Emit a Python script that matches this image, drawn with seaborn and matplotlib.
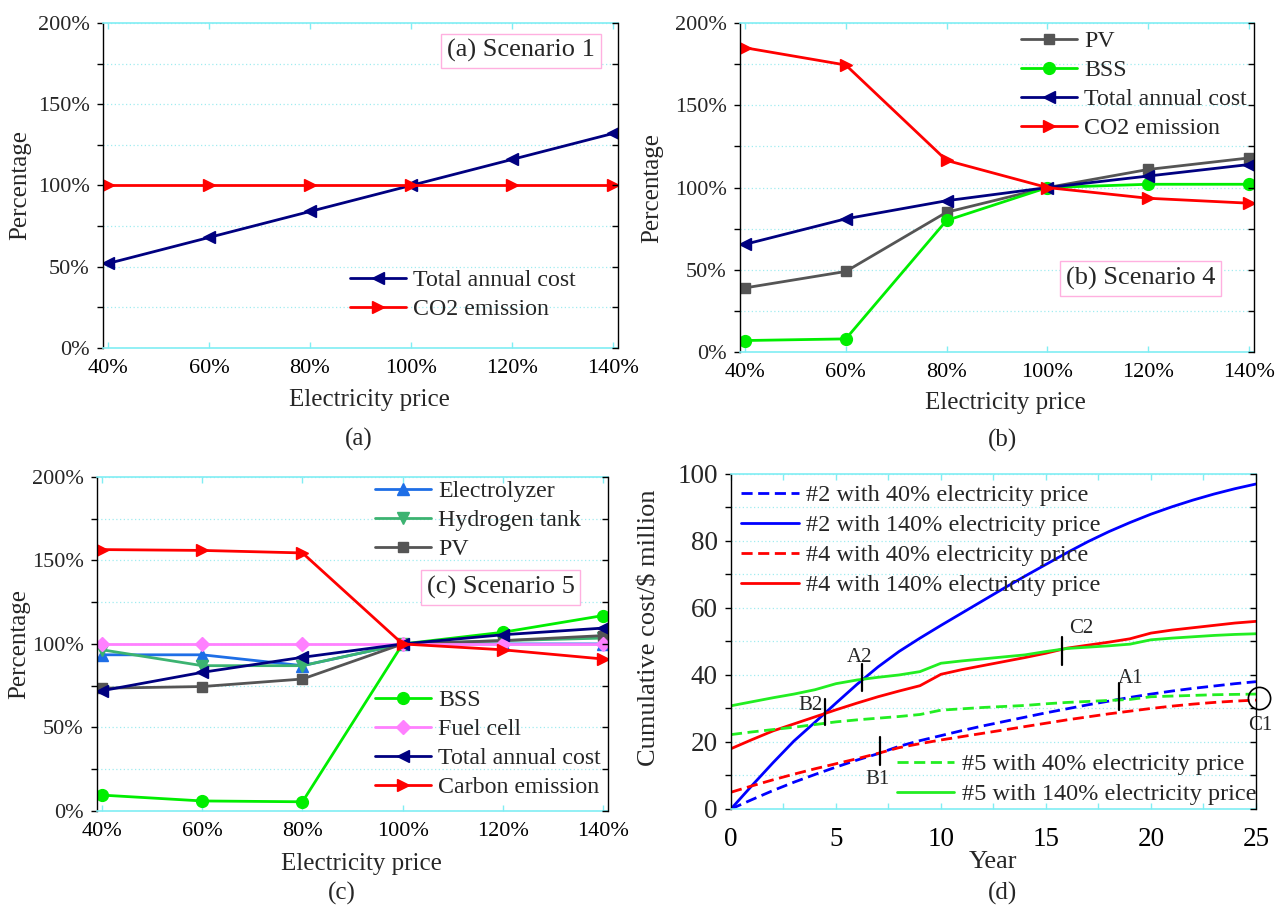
import matplotlib
matplotlib.use("Agg")
import matplotlib.pyplot as plt
import seaborn as sns
from matplotlib.ticker import FixedLocator, MultipleLocator

sns.set_style("white")
plt.rcParams["font.family"] = ["Liberation Serif", "DejaVu Serif"]
plt.rcParams["mathtext.fontset"] = "stix"

# ---------------- data ----------------
price = [40, 60, 80, 100, 120, 140]
price_labels = ["40%", "60%", "80%", "100%", "120%", "140%"]
pct_ticks = [0, 50, 100, 150, 200]
pct_labels = ["0%", "50%", "100%", "150%", "200%"]

# (a) Scenario 1
a_total_cost = [52, 68, 84, 100, 116, 132]
a_co2 = [100, 100, 100, 100, 100, 100]

# (b) Scenario 4
b_pv = [39, 49, 85, 100, 111, 118]
b_bss = [7, 8, 80, 100, 102, 102]
b_total_cost = [65.5, 81, 92, 100, 107, 114]
b_co2 = [185, 174.5, 116.5, 100, 93.5, 90.5]

# (c) Scenario 5
c_electrolyzer = [93.5, 93.5, 87, 100, 100, 100]
c_h2_tank = [96.5, 87, 87, 100, 102, 103.5]
c_pv = [73.5, 74.5, 79, 100, 102, 105]
c_bss = [9.5, 6, 5.5, 100, 107, 117]
c_fuel_cell = [100, 100, 100, 100, 100, 100]
c_total_cost = [72, 83, 92, 100, 105.5, 109.5]
c_carbon = [156.5, 156, 154.5, 100, 96.5, 91]

# (d) cumulative cost over the project life ($ million)
years = list(range(26))
d2_40 = [0, 2.8, 5.5, 8.0, 10.3, 12.5, 14.6, 16.5, 18.7, 20.4, 21.9, 23.4, 24.8,
         26.1, 27.4, 28.7, 29.9, 31.1, 32.2, 33.3, 34.3, 35.2, 36.0, 36.7, 37.4, 38.0]
d2_140 = [0, 7.0, 13.8, 20.3, 25.9, 31.6, 37.2, 42.4, 47.0, 51.0, 54.8, 58.5, 62.2,
          65.9, 69.5, 73.0, 76.5, 79.8, 82.8, 85.5, 88.0, 90.2, 92.2, 94.0, 95.6, 97.0]
d4_40 = [5.0, 6.9, 8.7, 10.4, 12.0, 13.5, 15.0, 16.6, 18.3, 19.5, 20.6, 21.6, 22.6,
         23.6, 24.6, 25.6, 26.6, 27.5, 28.4, 29.2, 30.0, 30.7, 31.3, 31.8, 32.2, 32.5]
d4_140 = [18.0, 20.7, 23.3, 25.4, 27.5, 29.6, 31.6, 33.5, 35.2, 36.8, 40.2, 41.6, 42.8,
          44.0, 45.2, 46.5, 48.0, 48.9, 49.8, 50.8, 52.5, 53.4, 54.1, 54.8, 55.5, 56.0]
d5_40 = [22.2, 23.0, 23.7, 24.4, 25.2, 26.0, 26.6, 27.1, 27.6, 28.2, 29.5, 29.9, 30.3,
         30.6, 30.9, 31.4, 31.8, 32.1, 32.4, 32.7, 33.5, 33.7, 33.9, 34.1, 34.2, 34.3]
d5_140 = [30.8, 32.0, 33.2, 34.3, 35.6, 37.4, 38.5, 39.3, 40.0, 41.0, 43.5, 44.2, 44.8,
          45.4, 46.0, 47.0, 47.9, 48.3, 48.7, 49.2, 50.5, 51.0, 51.4, 51.8, 52.1, 52.3]

# crossing-point markers in (d): name, year, lower / upper end of the bar
mark_names = ["A2", "B2", "B1", "C2", "A1"]
mark_years = [6.26, 4.5, 7.1, 15.78, 18.5]
mark_low = [35.1, 25.0, 13.2, 43.0, 29.5]
mark_high = [43.3, 32.8, 21.5, 51.3, 37.6]
mark_text_xy = [(6.1, 45.3), (3.8, 30.8), (6.98, 8.8), (16.7, 53.8), (19.05, 38.8)]

# ---------------- style ----------------
NAVY = "#000080"
RED = "#ff0000"
GRAY = "#555555"
LIME = "#00ee00"
EL_BLUE = "#1e6ee6"
SEA = "#3cb371"
PINK = "#ff80ff"
CYAN = "#80eef4"
GRID = "#a0ecf0"
BOX_EDGE = "#ffb0e0"

fig = plt.figure(figsize=(12.82, 9.05), dpi=100)
ax_a = fig.add_axes([0.0803, 0.6155, 0.4017, 0.3591])
ax_b = fig.add_axes([0.5772, 0.6110, 0.4009, 0.3635])
ax_c = fig.add_axes([0.0757, 0.1039, 0.3986, 0.3691])
ax_d = fig.add_axes([0.5702, 0.1061, 0.4095, 0.3702])


def draw_series(ax, x, y, name, color, marker=None, ms=9, ls="-"):
    kw = dict(x=x, y=y, ax=ax, color=color, linewidth=2.0, label=name,
              errorbar=None, linestyle=ls)
    if marker is not None:
        kw.update(marker=marker, markersize=ms, markeredgecolor=color,
                  markerfacecolor=color, markeredgewidth=1.0)
    sns.lineplot(**kw)


def style_axes(ax, ylim, yticks, ylabels, yminor, xlim, xticks, xlabels, xminor,
               tick_fs, label_fs, xlabel, ylabel, xlab_xy, ylab_xy, xpad):
    ax.set_xlim(*xlim)
    ax.set_ylim(*ylim)
    ax.xaxis.set_major_locator(FixedLocator(xticks))
    ax.set_xticklabels(xlabels, fontsize=tick_fs)
    if xminor:
        ax.xaxis.set_minor_locator(MultipleLocator(xminor))
    ax.yaxis.set_major_locator(FixedLocator(yticks))
    ax.set_yticklabels(ylabels, fontsize=tick_fs)
    ax.yaxis.set_minor_locator(MultipleLocator(yminor))
    ax.grid(False)
    ax.grid(axis="y", which="both", linestyle=(0, (1, 2)), color=GRID, linewidth=0.9)
    ax.set_axisbelow(True)
    ax.tick_params(axis="x", which="both", direction="in", bottom=True, top=True,
                   color=CYAN, labelcolor="black", length=4.5, width=1.0, pad=xpad)
    ax.tick_params(axis="y", which="both", direction="out", left=True, right=False,
                   color="black", length=4.5, width=1.0, pad=5)
    for side in ("top", "bottom"):
        ax.spines[side].set_color(CYAN)
        ax.spines[side].set_linewidth(1.2)
    ax.spines["left"].set_color("black")
    ax.spines["left"].set_linewidth(1.0)
    ax.spines["right"].set_visible(False)
    ax.set_xlabel(xlabel, fontsize=label_fs)
    ax.set_ylabel(ylabel, fontsize=label_fs)
    ax.xaxis.set_label_coords(*xlab_xy)
    ax.yaxis.set_label_coords(*ylab_xy)

    # right-hand frame with inward ticks
    tw = ax.twinx()
    tw.set_ylim(*ylim)
    tw.yaxis.set_major_locator(FixedLocator(yticks))
    tw.yaxis.set_minor_locator(MultipleLocator(yminor))
    tw.tick_params(axis="y", which="both", direction="in", right=True, left=False,
                   labelright=False, color="black", length=4.5, width=1.0)
    for side in ("top", "bottom", "left"):
        tw.spines[side].set_visible(False)
    tw.spines["right"].set_color("black")
    tw.spines["right"].set_linewidth(1.0)
    tw.grid(False)
    return tw


def legend(ax, idx, anchor, fs=17.2, spacing=0.31, hl=2.35):
    h, l = ax.get_legend_handles_labels()
    leg = ax.legend([h[i] for i in idx], [l[i] for i in idx], loc="upper left",
                    bbox_to_anchor=anchor, frameon=False, fontsize=fs, borderpad=0,
                    borderaxespad=0, handlelength=hl, handletextpad=0.3,
                    labelspacing=spacing, numpoints=1)
    return leg


def scenario_box(ax, text, xy):
    ax.text(xy[0], xy[1], text, transform=ax.transAxes, ha="center", va="center",
            fontsize=19, zorder=5,
            bbox=dict(boxstyle="square,pad=0.22", fc="white", ec=BOX_EDGE, lw=1.0))


pct_xlim = (39, 141)

# ---------------- (a) ----------------
draw_series(ax_a, price, a_total_cost, "Total annual cost", NAVY, "<", 9)
draw_series(ax_a, price, a_co2, "CO2 emission", RED, ">", 9)
style_axes(ax_a, (0, 200), pct_ticks, pct_labels, 25, pct_xlim, price, price_labels, None,
           16, 18, "Electricity price", "Percentage", (0.517, -0.126), (-0.140, 0.5), 8.2)
legend(ax_a, [0, 1], (0.4796, 0.242))
scenario_box(ax_a, "(a) Scenario 1", (0.812, 0.914))

# ---------------- (b) ----------------
draw_series(ax_b, price, b_pv, "PV", GRAY, "s", 7.5)
draw_series(ax_b, price, b_bss, "BSS", LIME, "o", 8.5)
draw_series(ax_b, price, b_total_cost, "Total annual cost", NAVY, "<", 9)
draw_series(ax_b, price, b_co2, "CO2 emission", RED, ">", 9)
style_axes(ax_b, (0, 200), pct_ticks, pct_labels, 25, pct_xlim, price, price_labels, None,
           16, 18, "Electricity price", "Percentage", (0.517, -0.121), (-0.150, 0.5), 8.2)
legend(ax_b, [0, 1, 2, 3], (0.547, 0.978))
scenario_box(ax_b, "(b) Scenario 4", (0.78, 0.223))

# ---------------- (c) ----------------
draw_series(ax_c, price, c_electrolyzer, "Electrolyzer", EL_BLUE, "^", 9)
draw_series(ax_c, price, c_h2_tank, "Hydrogen tank", SEA, "v", 9)
draw_series(ax_c, price, c_pv, "PV", GRAY, "s", 7.5)
draw_series(ax_c, price, c_bss, "BSS", LIME, "o", 8.5)
draw_series(ax_c, price, c_fuel_cell, "Fuel cell", PINK, "D", 7.5)
draw_series(ax_c, price, c_total_cost, "Total annual cost", NAVY, "<", 9)
draw_series(ax_c, price, c_carbon, "Carbon emission", RED, ">", 9)
style_axes(ax_c, (0, 200), pct_ticks, pct_labels, 25, pct_xlim, price, price_labels, None,
           16, 18, "Electricity price", "Percentage", (0.518, -0.126), (-0.130, 0.5), 8.2)
leg_top = legend(ax_c, [0, 1, 2], (0.544, 0.990))
ax_c.add_artist(leg_top)
legend(ax_c, [3, 4, 5, 6], (0.544, 0.364))
scenario_box(ax_c, "(c) Scenario 5", (0.79, 0.67))

# ---------------- (d) ----------------
draw_series(ax_d, years, d2_40, "#2 with 40% electricity price", "#0000ff", ls=(0, (4, 2)))
draw_series(ax_d, years, d2_140, "#2 with 140% electricity price", "#0000ff")
draw_series(ax_d, years, d4_40, "#4 with 40% electricity price", RED, ls=(0, (4, 2)))
draw_series(ax_d, years, d4_140, "#4 with 140% electricity price", RED)
draw_series(ax_d, years, d5_40, "#5 with 40% electricity price", "#22ee22", ls=(0, (4, 2)))
draw_series(ax_d, years, d5_140, "#5 with 140% electricity price", "#22ee22")
style_axes(ax_d, (0, 100), [0, 20, 40, 60, 80, 100], ["0", "20", "40", "60", "80", "100"], 10,
           (0, 25), [0, 5, 10, 15, 20, 25], ["0", "5", "10", "15", "20", "25"], 2.5,
           19.5, 19, "Year", r"Cumulative cost/\$ million", (0.499, -0.125), (-0.135, 0.54), 13)
leg_d = legend(ax_d, [0, 1, 2, 3], (0.019, 0.970), fs=17.5, spacing=0.33, hl=2.37)
ax_d.add_artist(leg_d)
legend(ax_d, [4, 5], (0.316, 0.166), fs=17.5, spacing=0.33, hl=2.37)

for name, yr, lo, hi, (tx, ty) in zip(mark_names, mark_years, mark_low, mark_high, mark_text_xy):
    ax_d.plot([yr, yr], [lo, hi], color="black", linewidth=1.6, zorder=6)
    ax_d.text(tx, ty, name, ha="center", va="center", fontsize=15, zorder=6)
ax_d.plot([25.14], [33.1], marker="o", markersize=16, markerfacecolor="none",
          markeredgecolor="black", markeredgewidth=1.2, clip_on=False, zorder=7)
ax_d.text(25.2, 24.8, "C1", ha="center", va="center", fontsize=15, zorder=6)

# ---------------- panel captions ----------------
for txt, x, y in [("(a)", 358.6, 439), ("(b)", 1002.6, 440), ("(c)", 342, 893), ("(d)", 1002.6, 893)]:
    fig.text(x / 1282, 1 - y / 905, txt, ha="center", va="center", fontsize=18)

fig.savefig("out.png", dpi=100)
